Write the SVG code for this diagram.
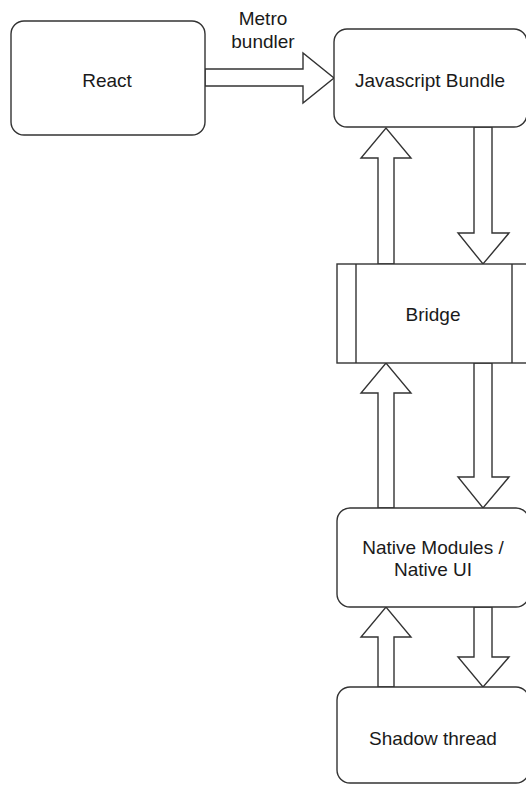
<svg xmlns="http://www.w3.org/2000/svg" width="526" height="785" viewBox="0 0 526 785">
<style>
.box{fill:#fff;stroke:#333;stroke-width:1.4}
.arr{fill:#fff;stroke:#333;stroke-width:1.4;stroke-linejoin:miter}
text{font-family:"Liberation Sans",Arial,sans-serif;font-size:19px;fill:#1a1a1a;text-anchor:middle}
</style>
<rect width="526" height="785" fill="#fff"/>
<g id="connectors">
<polygon class="arr" points="205,69 303,69 303,53 334,78 303,103 303,86 205,86"/>
<polygon class="arr" points="378,264 378,158 361,158 386,128 411,158 394,158 394,264"/>
<polygon class="arr" points="474,127 492,127 492,233 509,233 483,264 458,233 474,233"/>
<polygon class="arr" points="378,508 378,393 361,393 386,363 411,393 394,393 394,508"/>
<polygon class="arr" points="474,363 492,363 492,477 509,477 483,508 458,477 474,477"/>
<polygon class="arr" points="378,687 378,637 361,637 386,607 411,637 394,637 394,687"/>
<polygon class="arr" points="474,607 492,607 492,657 509,657 483,687 458,657 474,657"/>
</g>
<g id="label-metro">
<text x="263" y="25">Metro</text>
<text x="263" y="48">bundler</text>
</g>
<g id="react">
<rect class="box" x="11" y="21" width="194" height="114" rx="13"/>
<text x="107" y="87">React</text>
</g>
<g id="javascript-bundle">
<rect class="box" x="334" y="29" width="193" height="98" rx="13"/>
<text x="430" y="87">Javascript Bundle</text>
</g>
<g id="bridge">
<rect class="box" x="337" y="264" width="195" height="99"/>
<line class="box" x1="356" y1="264" x2="356" y2="363"/>
<line class="box" x1="512" y1="264" x2="512" y2="363"/>
<text x="433" y="321">Bridge</text>
</g>
<g id="native-modules">
<rect class="box" x="337" y="508" width="192" height="99" rx="13"/>
<text x="433" y="554">Native Modules /</text>
<text x="433" y="576">Native UI</text>
</g>
<g id="shadow-thread">
<rect class="box" x="337" y="687" width="192" height="96" rx="13"/>
<text x="433" y="745">Shadow thread</text>
</g>
</svg>
